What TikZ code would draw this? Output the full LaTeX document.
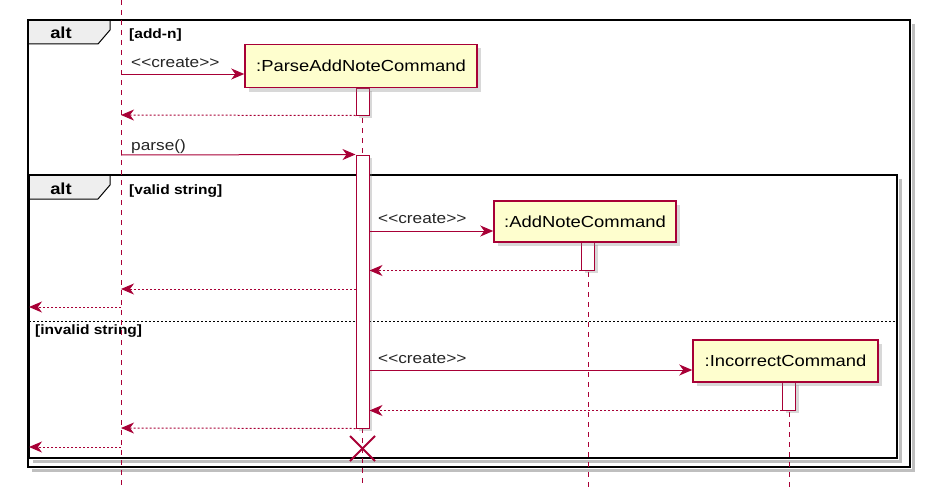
\documentclass[tikz,border=0pt]{standalone}
\usepackage{fontspec}
\setmainfont[FakeStretch=1.15]{Liberation Sans}
\usetikzlibrary{arrows.meta,shadows}
\definecolor{umlred}{HTML}{A80036}
\definecolor{umlfill}{HTML}{FEFECE}
\definecolor{tabfill}{HTML}{EEEEEE}
\newcommand{\createlbl}{\mbox{<}\kern0pt\mbox{<}create\mbox{>}\kern0pt\mbox{>}}
\begin{document}
\begin{tikzpicture}[x=1pt,y=-1pt,
  part/.style={draw=umlred, line width=1.5pt, fill=umlfill, inner sep=0pt,
    font=\fontsize{16}{18}\selectfont, text=black,
    drop shadow={shadow xshift=4pt, shadow yshift=-4pt, opacity=0.3}},
  act/.style={draw=umlred, line width=1pt, fill=white, inner sep=0pt, minimum width=13pt,
    drop shadow={shadow xshift=3pt, shadow yshift=-3pt, opacity=0.3}},
  life/.style={draw=umlred, line width=1pt, dash pattern=on 5pt off 5pt},
  msg/.style={draw=umlred, line width=1pt, -{Stealth[length=13pt,width=11pt,inset=4pt]}},
  ret/.style={msg, dash pattern=on 2pt off 2pt},
  msglabel/.style={anchor=base west, inner sep=0pt, font=\fontsize{15}{17}\selectfont, text=black!85},
  guard/.style={anchor=base west, inner sep=0pt, font=\bfseries\fontsize{13.5}{15}\selectfont},
  altlabel/.style={anchor=base, inner sep=0pt, font=\bfseries\fontsize{16}{18}\selectfont},
  frame/.style={draw=black, line width=2pt},
  frameshadow/.style={draw=black!25, line width=3pt},
  tab/.style={draw=black, line width=1pt, fill=tabfill},
  sep/.style={draw=black, line width=1pt, dash pattern=on 2pt off 2pt},
  killmark/.style={draw=umlred, line width=2pt}
]
\useasboundingbox (0,0) rectangle (936,503);
\fill[white] (0,0) rectangle (936,503);

% frame shadows
\draw[frameshadow] (913,24) -- (913,470) -- (32,470);
\draw[frameshadow] (900,179) -- (900,461) -- (33,461);

% outer alt frame
\draw[tab] (28,20) -- (110,20) -- (110,30) -- (98,44) -- (28,44) -- cycle;
\draw[frame] (28,20) rectangle (910,467);
\node[altlabel] (alt1) at (61,39) {alt};
\node[guard] (g1) at (129,39) {[add-n]};

% inner alt frame
\draw[tab] (29,175) -- (110,175) -- (110,185) -- (98,199) -- (29,199) -- cycle;
\draw[frame] (29,175) rectangle (897,458);
\node[altlabel] (alt2) at (61,194) {alt};
\node[guard] (g2) at (129,194) {[valid string]};
\draw[sep] (29,321) -- (897,321);
\node[guard] (g3) at (35,334) {[invalid string]};

% lifelines
\coordinate (L0top) at (121,0);
\coordinate (L0bot) at (121,487);
\coordinate (L1top) at (362.5,88);
\coordinate (L1bot) at (362.5,487);
\coordinate (L2top) at (588,242);
\coordinate (L2bot) at (588,490);
\coordinate (L3top) at (789,382);
\coordinate (L3bot) at (789,487);
\draw[life] (L0top) -- (L0bot);
\draw[life] (L1top) -- (L1bot);
\draw[life] (L2top) -- (L2bot);
\draw[life] (L3top) -- (L3bot);

% activations
\node[act, minimum height=27pt] (a1) at (362.5,101.5) {};
\node[act, minimum height=273pt] (a2) at (362.5,291.5) {};
\node[act, minimum height=28pt] (a3) at (588,256) {};
\node[act, minimum height=28pt] (a4) at (789,396) {};

% participants
\node[part, minimum width=232pt, minimum height=43pt] (p1) at (361,66) {:ParseAddNoteCommand};
\node[part, minimum width=182pt, minimum height=41pt] (p2) at (585,221.5) {:AddNoteCommand};
\node[part, minimum width=185pt, minimum height=42pt] (p3) at (785.5,361) {:IncorrectCommand};

% message end points
\coordinate (u74) at (121,74);
\coordinate (c1) at (p1.west |- u74);
\coordinate (u115) at (121,115);
\coordinate (u155) at (121,155);
\coordinate (s231) at (369,231);
\coordinate (c2) at (p2.west |- s231);
\coordinate (u289) at (121,289);
\coordinate (u307) at (121,307);
\coordinate (f307) at (29,307);
\coordinate (s370) at (369,370);
\coordinate (c3) at (p3.west |- s370);
\coordinate (u428) at (121,428);
\coordinate (u447) at (121,447);
\coordinate (f447) at (29,447);

% messages
\draw[msg] (u74) -- (c1);
\node[msglabel] (m1) at (131,67) {\createlbl};
\draw[ret] (a1.south west) -- (u115);
\draw[msg] (u155) -- (a2.north west);
\node[msglabel] (m2) at (131,150) {parse()};
\draw[msg] (s231) -- (c2);
\node[msglabel] (m3) at (378,223) {\createlbl};
\draw[ret] (a3.south west) -- (a2.east |- a3.south);
\draw[ret] (a2.west |- u289) -- (u289);
\draw[ret] (u307) -- (f307);
\draw[msg] (s370) -- (c3);
\node[msglabel] (m4) at (378,363) {\createlbl};
\draw[ret] (a4.south west) -- (a2.east |- a4.south);
\draw[ret] (a2.south west) -- (u428);
\draw[ret] (u447) -- (f447);

% destruction
\coordinate (xd) at (362.5,448.5);
\draw[killmark] ([shift={(-12.5,-12.5)}]xd) -- ([shift={(12.5,12.5)}]xd);
\draw[killmark] ([shift={(12.5,-12.5)}]xd) -- ([shift={(-12.5,12.5)}]xd);
\end{tikzpicture}
\end{document}
